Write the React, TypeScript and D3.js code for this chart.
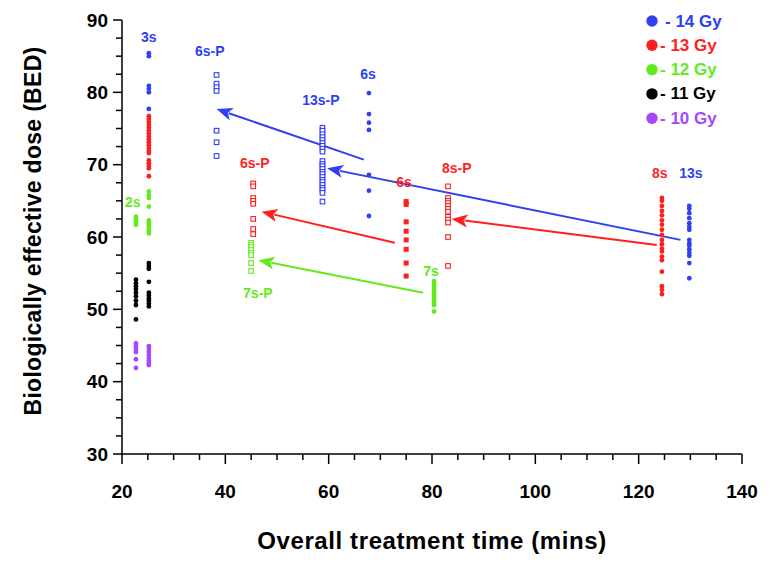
import React from 'react';
import * as d3 from 'd3';

// ---- data ----
const doses = [14, 13, 12, 11, 10];
const doseColors = ['#2f3ff2', '#ff1f1f', '#62ea1e', '#000000', '#a646ff'];

// filled markers, by dose and schedule
const bed14_3s = [85.4, 85.0, 80.9, 80.5, 80.0, 77.7];
const bed13_3s = [76.7, 76.3, 75.9, 75.5, 75.1, 74.7, 74.3, 73.9, 73.5, 73.1, 72.7, 72.3, 71.9, 71.6, 70.6, 70.2, 69.8, 69.5, 68.4];
const bed12_3s = [66.3, 65.8, 65.4, 64.2, 62.3, 62.0, 61.7, 61.4, 61.1, 60.8, 60.5];
const bed12_2s = [62.8, 62.5, 62.2, 61.9, 61.7];
const bed11_3s = [56.4, 56.0, 55.6, 53.8, 52.3, 51.9, 51.5, 51.2, 50.8, 50.4];
const bed11_2s = [54.1, 53.6, 53.2, 52.8, 52.3, 51.8, 51.2, 50.6, 48.6];
const bed10_2s = [45.3, 44.9, 44.5, 44.1, 43.1, 41.9];
const bed10_3s = [44.9, 44.5, 44.1, 43.7, 43.3, 42.9, 42.5, 42.3];
const bed14_6s = [79.9, 77.0, 75.8, 74.8, 68.6, 66.4, 62.9];
const bed13_6s = [64.9, 64.5, 62.1, 60.8, 59.6, 58.3, 56.4, 54.6];
const bed12_7s = [53.9, 53.6, 53.3, 53.0, 52.7, 52.4, 52.1, 51.8, 51.5, 51.2, 50.9, 50.6, 49.7];
const bed13_8s = [65.4, 65.0, 64.3, 63.6, 63.0, 62.3, 61.7, 61.0, 60.3, 59.6, 59.0, 58.4, 58.0, 57.3, 56.8, 55.2, 53.2, 52.7, 52.1];
const bed14_13s = [64.3, 63.9, 63.3, 62.6, 61.9, 61.4, 61.0, 59.6, 59.1, 58.8, 58.3, 57.8, 57.4, 56.4, 54.3];

// open markers (protracted "-P" schedules)
const bed14_6sP = [82.4, 81.2, 80.7, 80.2, 74.7, 73.1, 71.2];
const bed13_6sP = [67.4, 67.0, 65.4, 65.0, 64.6, 62.5, 61.1, 60.4];
const bed12_7sP = [59.2, 58.9, 58.6, 58.2, 57.8, 57.5, 56.4, 55.3];
const bed14_13sP = [75.1, 74.7, 74.2, 73.8, 73.4, 73.0, 72.6, 72.2, 71.8, 70.5, 70.1, 69.8, 69.4, 69.0, 68.7, 68.3, 67.9, 67.6, 67.2, 66.8, 66.5, 66.1, 64.9];
const bed13_8sP = [67.0, 65.4, 65.0, 64.7, 64.3, 63.9, 63.5, 62.8, 62.4, 62.0, 60.0, 56.0];

const groups = [
  { id: '14-3s', dose: 14, time: 25.2, bed: bed14_3s, open: false },
  { id: '13-3s', dose: 13, time: 25.2, bed: bed13_3s, open: false },
  { id: '12-3s', dose: 12, time: 25.2, bed: bed12_3s, open: false },
  { id: '12-2s', dose: 12, time: 22.7, bed: bed12_2s, open: false },
  { id: '11-3s', dose: 11, time: 25.2, bed: bed11_3s, open: false },
  { id: '11-2s', dose: 11, time: 22.7, bed: bed11_2s, open: false },
  { id: '10-2s', dose: 10, time: 22.7, bed: bed10_2s, open: false },
  { id: '10-3s', dose: 10, time: 25.2, bed: bed10_3s, open: false },
  { id: '14-6s', dose: 14, time: 67.8, bed: bed14_6s, open: false },
  { id: '13-6s', dose: 13, time: 75.0, bed: bed13_6s, open: false },
  { id: '12-7s', dose: 12, time: 80.4, bed: bed12_7s, open: false },
  { id: '13-8s', dose: 13, time: 124.5, bed: bed13_8s, open: false },
  { id: '14-13s', dose: 14, time: 129.8, bed: bed14_13s, open: false },
  { id: '14-6sP', dose: 14, time: 38.3, bed: bed14_6sP, open: true },
  { id: '13-6sP', dose: 13, time: 45.4, bed: bed13_6sP, open: true },
  { id: '12-7sP', dose: 12, time: 45.0, bed: bed12_7sP, open: true },
  { id: '14-13sP', dose: 14, time: 58.8, bed: bed14_13sP, open: true },
  { id: '13-8sP', dose: 13, time: 83.1, bed: bed13_8sP, open: true },
];
// the red 6s group is drawn with small filled squares in the original
const squareFilled = ['13-6s'];

const arrows = [
  { dose: 14, from: [66.8, 70.7], to: [38.3, 77.7] },
  { dose: 13, from: [72.8, 59.2], to: [47.0, 63.5] },
  { dose: 12, from: [78.3, 52.3], to: [46.4, 56.8] },
  { dose: 14, from: [128.1, 59.6], to: [59.7, 69.5] },
  { dose: 13, from: [123.5, 58.9], to: [83.8, 62.5] },
];

const annotations = [
  { text: '3s', dose: 14, time: 25.2, bed: 87.6 },
  { text: '6s-P', dose: 14, time: 37.0, bed: 85.7 },
  { text: '13s-P', dose: 14, time: 58.5, bed: 78.9 },
  { text: '6s', dose: 14, time: 67.6, bed: 82.5 },
  { text: '6s-P', dose: 13, time: 45.7, bed: 70.2 },
  { text: '6s', dose: 13, time: 74.6, bed: 67.6 },
  { text: '8s-P', dose: 13, time: 84.8, bed: 69.6 },
  { text: '8s', dose: 13, time: 124.1, bed: 68.9 },
  { text: '13s', dose: 14, time: 130.1, bed: 68.9 },
  { text: '2s', dose: 12, time: 22.1, bed: 64.8 },
  { text: '7s-P', dose: 12, time: 46.3, bed: 52.3 },
  { text: '7s', dose: 12, time: 79.8, bed: 55.3 },
];

const xTicks = [20, 40, 60, 80, 100, 120, 140];
const yTicks = [30, 40, 50, 60, 70, 80, 90];

const W = 780;
const H = 582;
const FONT = '"Liberation Sans", Arial, sans-serif';

export default function App() {
  const x = d3.scaleLinear().domain([20, 140]).range([122, 742]);
  const y = d3.scaleLinear().domain([30, 90]).range([454, 20]);
  const color = d3.scaleOrdinal<number, string>().domain(doses).range(doseColors);

  const xMinor = d3.range(20, 140.01, 5);
  const yMinor = d3.range(30, 90.01, 2.5);

  return (
    <svg width={W} height={H} style={{ position: 'absolute', left: 0, top: 0, background: '#fff' }} fontFamily={FONT}>
      {/* axes */}
      <g stroke="#000" strokeWidth={1.5}>
        <line x1={x(20)} x2={x(20)} y1={y(90)} y2={y(30)} />
        <line x1={x(20) - 1} x2={x(140)} y1={y(30)} y2={y(30)} />
        {yMinor.map((v) => (
          <line key={'ym' + v} x1={x(20)} x2={x(20) - (v % 10 === 0 ? 9 : 6)} y1={y(v)} y2={y(v)} />
        ))}
        {xMinor.map((v) => (
          <line key={'xm' + v} x1={x(v)} x2={x(v)} y1={y(30)} y2={y(30) + (v % 20 === 0 ? 10 : 6)} />
        ))}
      </g>
      <g fontWeight="bold" fontSize={19} fill="#000">
        {yTicks.map((v) => (
          <text key={'yt' + v} x={x(20) - 14} y={y(v)} textAnchor="end" dominantBaseline="central">{v}</text>
        ))}
        {xTicks.map((v) => (
          <text key={'xt' + v} x={x(v)} y={y(30) + 44} textAnchor="middle">{v}</text>
        ))}
      </g>
      <text x={432} y={549} textAnchor="middle" fontWeight="bold" fontSize={24} letterSpacing={0.6}>Overall treatment time (mins)</text>
      <text transform={`translate(41,${231}) rotate(-90)`} textAnchor="middle" fontWeight="bold" fontSize={23} letterSpacing={0.3}>Biologically effective dose (BED)</text>

      {/* arrows */}
      {arrows.map((a, i) => {
        const x0 = x(a.from[0]), y0 = y(a.from[1]);
        const x1 = x(a.to[0]), y1 = y(a.to[1]);
        const ang = Math.atan2(y1 - y0, x1 - x0);
        const len = 16, hw = 6.5;
        const bx = x1 - len * Math.cos(ang), by = y1 - len * Math.sin(ang);
        const px = -Math.sin(ang) * hw, py = Math.cos(ang) * hw;
        const c = color(a.dose);
        return (
          <g key={'ar' + i}>
            <line x1={x0} y1={y0} x2={bx + 3 * Math.cos(ang)} y2={by + 3 * Math.sin(ang)} stroke={c} strokeWidth={2} />
            <polygon points={`${x1},${y1} ${bx + px},${by + py} ${bx + 4 * Math.cos(ang)},${by + 4 * Math.sin(ang)} ${bx - px},${by - py}`} fill={c} />
          </g>
        );
      })}

      {/* points */}
      {groups.map((g) => {
        const c = color(g.dose);
        return (
          <g key={g.id}>
            {g.bed.map((v, j) => {
              const cx = x(g.time), cy = y(v);
              if (g.open) {
                return <rect key={j} x={cx - 2.3} y={cy - 2.3} width={4.6} height={4.6} fill="#fff" stroke={c} strokeWidth={1.1} />;
              }
              if (squareFilled.includes(g.id)) {
                return <rect key={j} x={cx - 2.5} y={cy - 2.5} width={5} height={5} fill={c} />;
              }
              return <circle key={j} cx={cx} cy={cy} r={2.4} fill={c} />;
            })}
          </g>
        );
      })}

      {/* annotations */}
      <g fontWeight="bold" fontSize={14}>
        {annotations.map((a, i) => (
          <text key={'an' + i} x={x(a.time)} y={y(a.bed)} textAnchor="middle" dominantBaseline="central" fill={color(a.dose)}>{a.text}</text>
        ))}
      </g>

      {/* legend */}
      <g fontWeight="bold" fontSize={17}>
        {doses.map((d, i) => (
          <g key={'lg' + d} transform={`translate(652,${21 + i * 24.3})`}>
            <circle r={5.7} fill={color(d)} />
            <text x={i === 0 ? 13 : 8} dominantBaseline="central" fill={color(d)}>{`- ${d} Gy`}</text>
          </g>
        ))}
      </g>
    </svg>
  );
}
